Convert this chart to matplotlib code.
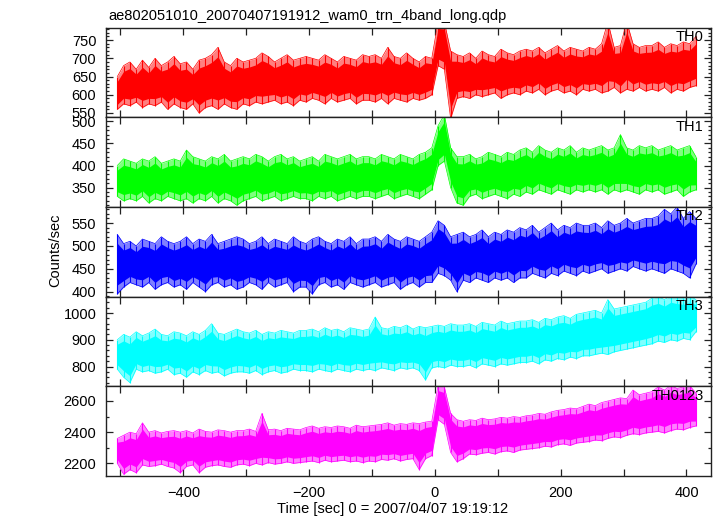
import numpy as np
import matplotlib
matplotlib.use("Agg")
import matplotlib.pyplot as plt
from matplotlib.ticker import MultipleLocator, FuncFormatter

plt.rcParams['font.family'] = ['Liberation Sans', 'DejaVu Sans']

title = "ae802051010_20070407191912_wam0_trn_4band_long.qdp"
xlabel = "Time [sec] 0 = 2007/04/07 19:19:12"
ylabel = "Counts/sec"
bands = ["TH0", "TH1", "TH2", "TH3", "TH0123"]
colors = ["#ff0000", "#00ff00", "#0000ff", "#00ffff", "#ff00ff"]

# time nodes (s), envelope of the light curve read every 10 s
time_nodes = np.arange(-505, 416, 10)

th0_hi = [650, 680, 690, 670, 695, 675, 700, 680, 690, 705,
          685, 690, 670, 695, 700, 710, 730, 690, 680, 700,
          690, 695, 700, 715, 705, 690, 700, 710, 695, 700,
          705, 700, 695, 710, 700, 690, 705, 700, 695, 710,
          705, 710, 700, 730, 705, 700, 715, 700, 690, 705,
          700,
          800, 800, 720, 710,
          705, 715, 700, 720, 710, 705, 725, 715, 710, 720,
          725, 720, 730, 715, 725, 735, 720, 730, 725, 720,
          730, 725, 740, 800, 730, 735, 800, 740, 730, 735,
          735, 745, 730, 740, 735, 745, 740, 760]
th0_lo = [560, 575, 570, 580, 565, 575, 570, 580, 560, 575,
          565, 560, 575, 550, 565, 570, 560, 575, 565, 560,
          575, 570, 580, 575, 580, 585, 575, 580, 570, 585,
          580, 590, 585, 575, 590, 580, 585, 590, 575, 585,
          585, 580, 590, 575, 590, 585, 580, 590, 585, 590,
          600,
          680, 670, 535, 590,
          595, 590, 600, 595, 600, 605, 590, 600, 605, 600,
          610, 605, 615, 600, 610, 615, 605, 610, 600, 615,
          610, 615, 605, 610, 620, 605, 615, 610, 620, 610,
          615, 610, 620, 605, 615, 610, 620, 625]

th1_hi = [400, 415, 410, 405, 415, 410, 420, 405, 410, 415,
          410, 435, 420, 415, 410, 420, 415, 425, 410, 415,
          420, 415, 425, 420, 410, 420, 425, 415, 420, 410,
          415, 420, 410, 425, 420, 415, 420, 425, 415, 420,
          420, 415, 425, 420, 415, 425, 420, 415, 425, 430,
          440,
          490, 515, 440, 420,
          420, 425, 415, 420, 430, 425, 420, 430, 425, 435,
          440, 430, 445, 435, 430, 440, 435, 445, 430, 440,
          435, 440, 445, 435, 440, 470, 440, 435, 445, 440,
          445, 435, 440, 445, 435, 440, 445, 420]
th1_lo = [330, 320, 325, 320, 330, 315, 325, 320, 330, 325,
          320, 325, 315, 325, 320, 330, 315, 325, 320, 310,
          320, 325, 330, 320, 325, 330, 320, 325, 330, 325,
          325, 320, 330, 325, 330, 320, 325, 330, 325, 330,
          330, 325, 330, 335, 325, 330, 335, 330, 325, 335,
          345,
          400, 410, 350, 315,
          310, 330, 335, 325, 330, 335, 330, 325, 335, 330,
          340, 335, 345, 340, 335, 345, 340, 335, 345, 340,
          345, 340, 345, 335, 345, 340, 345, 340, 335, 345,
          340, 345, 335, 340, 345, 330, 340, 345]

th2_hi = [525, 505, 510, 500, 515, 510, 505, 520, 510, 505,
          510, 520, 505, 515, 510, 525, 505, 510, 515, 520,
          515, 505, 510, 520, 505, 515, 510, 505, 520, 510,
          505, 515, 520, 510, 505, 515, 510, 520, 505, 515,
          515, 520, 510, 525, 515, 510, 520, 515, 510, 520,
          530,
          555, 545, 520, 525,
          530, 520, 525, 535, 520, 530, 525, 535, 530, 540,
          535, 545, 530, 540, 550, 535, 545, 540, 550, 545,
          545, 550, 540, 555, 545, 550, 560, 550, 555, 560,
          560, 565, 580, 570, 585, 560, 575, 560]
th2_lo = [395, 410, 420, 415, 410, 420, 405, 415, 420, 410,
          415, 405, 420, 410, 400, 415, 420, 410, 415, 405,
          410, 420, 415, 405, 420, 410, 415, 420, 400, 410,
          410, 395, 415, 420, 410, 415, 405, 420, 415, 410,
          415, 420, 410, 415, 420, 405, 415, 420, 410, 420,
          420,
          440, 435, 425, 400,
          425, 420, 430, 425, 420, 430, 425, 430, 420, 430,
          430, 440, 435, 430, 440, 435, 445, 440, 435, 445,
          440, 445, 450, 440, 445, 450, 445, 455, 450, 445,
          450, 445, 440, 450, 445, 440, 430, 460]

th3_hi = [900, 920, 910, 930, 915, 925, 940, 920, 915, 930,
          925, 915, 930, 920, 935, 960, 925, 920, 930, 940,
          930, 925, 935, 920, 930, 925, 935, 930, 925, 935,
          935, 940, 930, 945, 935, 940, 930, 945, 940, 935,
          940, 985, 945, 940, 950, 945, 955, 940, 950, 945,
          950,
          955, 950, 960, 955,
          955, 960, 950, 965, 960, 955, 970, 960, 965, 970,
          970, 975, 965, 980, 975, 985, 990, 980, 995, 1000,
          1005, 1010, 1000, 1050, 1015, 1020, 1025, 1030, 1035, 1040,
          1055, 1061, 1050, 1065, 1060, 1055, 1065, 1050]
th3_lo = [790, 760, 740, 790, 780, 785, 775, 780, 790, 770,
          775, 760, 780, 770, 785, 775, 780, 765, 775, 780,
          780, 775, 785, 770, 780, 785, 775, 780, 790, 785,
          785, 780, 790, 785, 780, 790, 785, 780, 790, 785,
          790, 785, 795, 790, 785, 795, 790, 795, 785, 750,
          795,
          800, 795, 805, 800,
          800, 805, 795, 810, 805, 800, 810, 805, 810, 815,
          815, 820, 810, 825, 820, 830, 825, 835, 830, 840,
          840, 845, 850, 845, 855, 860, 865, 870, 875, 880,
          885, 895, 890, 900, 895, 905, 900, 930]

th0123_hi = [2360, 2380, 2400, 2390, 2460, 2400, 2410, 2395, 2405, 2410,
             2400, 2410, 2395, 2420, 2405, 2400, 2415, 2410, 2400, 2410,
             2410, 2420, 2405, 2520, 2415, 2420, 2410, 2425, 2420, 2415,
             2430, 2440, 2425, 2435, 2430, 2440, 2435, 2425, 2445, 2435,
             2440, 2445, 2450, 2460, 2445, 2455, 2450, 2460, 2455, 2465,
             2470,
             2700, 2690, 2520, 2480,
             2470, 2480, 2475, 2490, 2480, 2485, 2495, 2490, 2500, 2495,
             2505, 2510, 2520, 2515, 2530, 2540, 2545, 2555, 2550, 2565,
             2580, 2570, 2590, 2600, 2610, 2620, 2615, 2670, 2640, 2650,
             2660, 2690, 2670, 2700, 2680, 2690, 2700, 2650]
th0123_lo = [2200, 2130, 2160, 2140, 2190, 2180, 2185, 2195, 2180, 2170,
             2140, 2180, 2190, 2140, 2175, 2185, 2190, 2180, 2175, 2190,
             2195, 2185, 2200, 2190, 2205, 2195, 2200, 2210, 2200, 2205,
             2210, 2215, 2205, 2220, 2210, 2215, 2220, 2210, 2215, 2205,
             2215, 2210, 2225, 2220, 2230, 2215, 2225, 2230, 2160, 2230,
             2250,
             2480, 2450, 2270, 2210,
             2230, 2260, 2255, 2265, 2270, 2260, 2275, 2280, 2270, 2285,
             2290, 2295, 2300, 2310, 2305, 2320, 2325, 2315, 2330, 2335,
             2340, 2350, 2345, 2360, 2370, 2365, 2380, 2390, 2385, 2395,
             2400, 2405, 2395, 2410, 2420, 2415, 2430, 2440]

highs = [th0_hi, th1_hi, th2_hi, th3_hi, th0123_hi]
lows = [th0_lo, th1_lo, th2_lo, th3_lo, th0123_lo]

ylims = [(538, 784), (306, 509), (389, 585), (726, 1061), (2119, 2694)]
ymajor = [50, 50, 50, 100, 200]
yminor = [10, 10, 10, 20, 100]

fig = plt.figure(figsize=(7.17, 5.16), dpi=100)
gs = fig.add_gridspec(5, 1, left=106/717, right=711/717, top=1-27.7/516,
                      bottom=1-476/516, hspace=0)

for k in range(5):
    ax = fig.add_subplot(gs[k])
    hi = np.array(highs[k], dtype=float)
    lo = np.array(lows[k], dtype=float)
    span = hi - lo
    ax.fill_between(time_nodes, lo, hi, color=colors[k], alpha=0.5, lw=0)
    ax.fill_between(time_nodes, lo + 0.15 * span, hi - 0.15 * span,
                    color=colors[k], lw=0)
    ax.vlines(time_nodes, lo, hi, color=colors[k], lw=0.8)
    ax.plot(time_nodes, hi, color=colors[k], lw=0.5)
    ax.plot(time_nodes, lo, color=colors[k], lw=0.5)
    ax.set_xlim(-523, 439)
    ax.set_ylim(*ylims[k])
    ax.xaxis.set_major_locator(MultipleLocator(100))
    ax.yaxis.set_major_locator(MultipleLocator(ymajor[k]))
    ax.yaxis.set_minor_locator(MultipleLocator(yminor[k]))
    ax.tick_params(axis='both', which='both', direction='in', top=True,
                   right=True, width=0.9, colors='#222222', labelcolor='black',
                   labelsize=10.5)
    ax.tick_params(axis='both', which='major', length=5, pad=7)
    ax.tick_params(axis='both', which='minor', length=2.5)
    for sp in ax.spines.values():
        sp.set_linewidth(1.0)
        sp.set_color('#222222')
    ax.text(0.988, 0.975, bands[k], transform=ax.transAxes, ha='right',
            va='top', fontsize=10.5)
    if k < 4:
        ax.tick_params(labelbottom=False)
    else:
        ax.xaxis.set_major_formatter(FuncFormatter(
            lambda v, p: ("%d" % v).replace('-', '\u2212') if abs(v) % 200 == 0 else ""))

fig.text(108/717, 1 - 20/516, title, ha='left', va='baseline', fontsize=10.5)
fig.text(393/717, 1 - 513/516, xlabel, ha='center', va='baseline', fontsize=10.5)
fig.text(55/717, 1 - 250/516, ylabel, ha='center', va='center',
         rotation=90, fontsize=10.5)

fig.savefig("out.png", dpi=100)
